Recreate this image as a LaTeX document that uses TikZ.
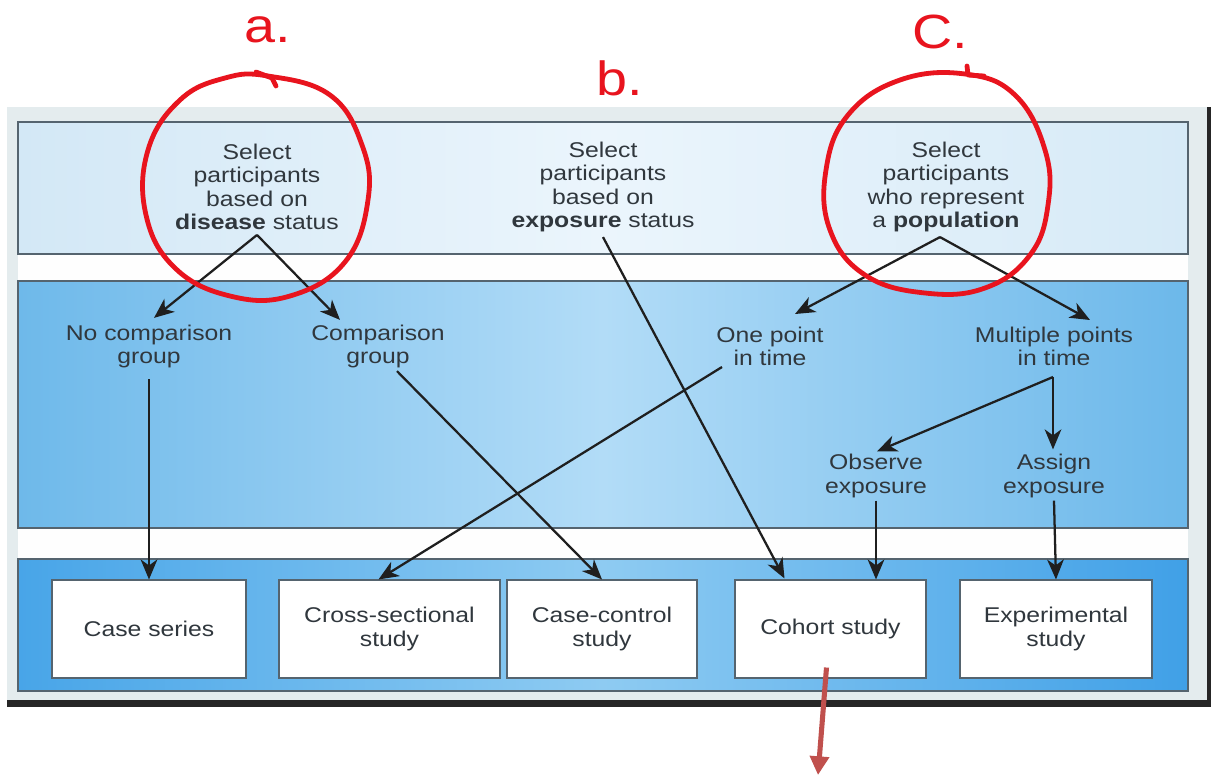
\documentclass[tikz,border=0pt]{standalone}
\usepackage{fontspec}
\setmainfont{Liberation Sans}[FakeStretch=1.16]
\usetikzlibrary{arrows.meta,calc}
\definecolor{txt}{HTML}{30373D}
\definecolor{panel}{HTML}{E4ECEE}
\definecolor{hand}{HTML}{E8141E}
\definecolor{redarr}{HTML}{C0504D}
\definecolor{bord}{HTML}{55646F}
\definecolor{topL}{HTML}{D3E8F6}
\definecolor{topM}{HTML}{EBF5FC}
\definecolor{topR}{HTML}{D6EAF7}
\definecolor{midL}{HTML}{6EB9EA}
\definecolor{midM}{HTML}{B2DCF7}
\definecolor{midR}{HTML}{6CB8EA}
\definecolor{botL}{HTML}{48A5E8}
\definecolor{botM}{HTML}{8ECBF2}
\definecolor{botR}{HTML}{40A0E7}
\begin{document}
\begin{tikzpicture}[x=0.75pt,y=-0.75pt,
  lbl/.style={align=center,font=\fontsize{16}{17.6}\selectfont,text=txt,inner sep=2pt},
  arr/.style={-{Stealth[length=15pt,width=12.5pt,inset=4.5pt]}, line width=1.7pt, draw=black!88},
  band/.style={draw=bord, line width=0.8pt},
  studybox/.style={lbl, draw=bord, fill=white, line width=0.8pt, minimum height=73.5pt},
  redline/.style={draw=hand, line width=3.6pt, line cap=round, line join=round},
  handtxt/.style={text=hand, font=\fontsize{36}{36}\selectfont}]
\useasboundingbox (0,0) rectangle (1211,776);
\fill[white] (0,0) rectangle (1211,776);
% panel
\fill[panel] (7,107) rectangle (1207,700);
\fill[black!85] (1207,107) rectangle (1211,707);
\fill[black!85] (7,700) rectangle (1211,707);
\fill[white!96!panel] (18,122) rectangle (1188,692);
% bands
\path[band, left color=topL, right color=topR, middle color=topM] (18,122) rectangle (1188,254);
\path[band, left color=midL, right color=midR, middle color=midM] (18,281) rectangle (1188,528);
\path[band, left color=botL, right color=botR, middle color=botM] (18,559) rectangle (1188,691);
% top texts
\node[lbl] (dis) at (257,187) {Select\\participants\\based on\\\textbf{disease} status};
\node[lbl] (exp) at (603,187) {Select\\participants\\based on\\\textbf{exposure} status};
\node[lbl] (pop) at (946,187) {Select\\participants\\who represent\\a \textbf{population}};
% middle texts
\node[lbl] (nocomp) at (149,346.5) {No comparison\\group};
\node[lbl] (comp) at (378,346.5) {Comparison\\group};
\node[lbl] (one) at (770,346.5) {One point\\in time};
\node[lbl] (mult) at (1054,346.5) {Multiple points\\in time};
\node[lbl] (obs) at (876,476) {Observe\\exposure};
\node[lbl] (asg) at (1054,476) {Assign\\exposure};
% study boxes
\node[studybox, minimum width=145.5pt] (cs) at (149,629) {Case series};
\node[studybox, minimum width=165.75pt] (xs) at (389.5,629) {Cross-sectional\\study};
\node[studybox, minimum width=142.5pt] (cc) at (602,629) {Case-control\\study};
\node[studybox, minimum width=143.25pt] (co) at (830.5,629) {Cohort study};
\node[studybox, minimum width=144pt] (ex) at (1056,629) {Experimental\\study};
% connectors
\coordinate (dapex) at ($(dis.south)+(0,2)$);
\draw[arr] (dapex) -- ($(nocomp.north)+(5,-4)$);
\draw[arr] (dapex) -- ($(comp.north)+(-38,-2)$);
\draw[arr] ($(exp.south)+(0,2)$) -- ($(co.north)+(-46,-1)$);
\coordinate (papex) at ($(pop.south)+(-6,2)$);
\draw[arr] (papex) -- ($(one.north)+(25,-10)$);
\draw[arr] (papex) -- ($(mult.north)+(36,-4)$);
\draw[arr] ($(nocomp.south)+(0,8)$) -- (cs.north);
\draw[arr] ($(comp.south)+(19,0)$) -- (cc.north);
\draw[arr] ($(one.south)+(-48,-2)$) -- ($(xs.north)+(-11,0)$);
\coordinate (mbr) at ($(mult.south)+(-1,8)$);
\draw[arr] (mbr) -- ($(asg.north)+(-1,-2)$);
\draw[arr] (mbr) -- ($(obs.north)+(1,0)$);
\draw[arr] (obs.south) -- ($(co.north)+(45.5,0)$);
\draw[arr] (asg.south) -- ($(ex.north)$);
% red annotations
\node[handtxt] (la) at (268,30) {a.};
\node[handtxt] (lb) at (620,78) {b.};
\node[handtxt] (lc) at (940,32) {C.};
\draw[redline] plot[smooth cycle, tension=0.7] coordinates {(268,76) (330,95) (362,145) (368,200) (345,262) (290,296) (230,296) (175,268) (146,215) (148,150) (180,100) (225,78)};
\draw[redline] (256,72) -- (272,78) -- (276,86);
\draw[redline] plot[smooth cycle, tension=0.7] coordinates {(965,74) (1015,95) (1045,150) (1048,205) (1030,255) (985,288) (925,293) (865,275) (830,230) (826,170) (848,115) (900,80)};
\draw[redline] (967,66) -- (968,75) -- (984,76);
\coordinate (redend) at (818,775);
\draw[draw=redarr, line width=3.8pt, -{Triangle[length=14pt,width=14pt]}] ($(co.south)+(-4,-11)$) -- (redend);
\end{tikzpicture}
\end{document}
